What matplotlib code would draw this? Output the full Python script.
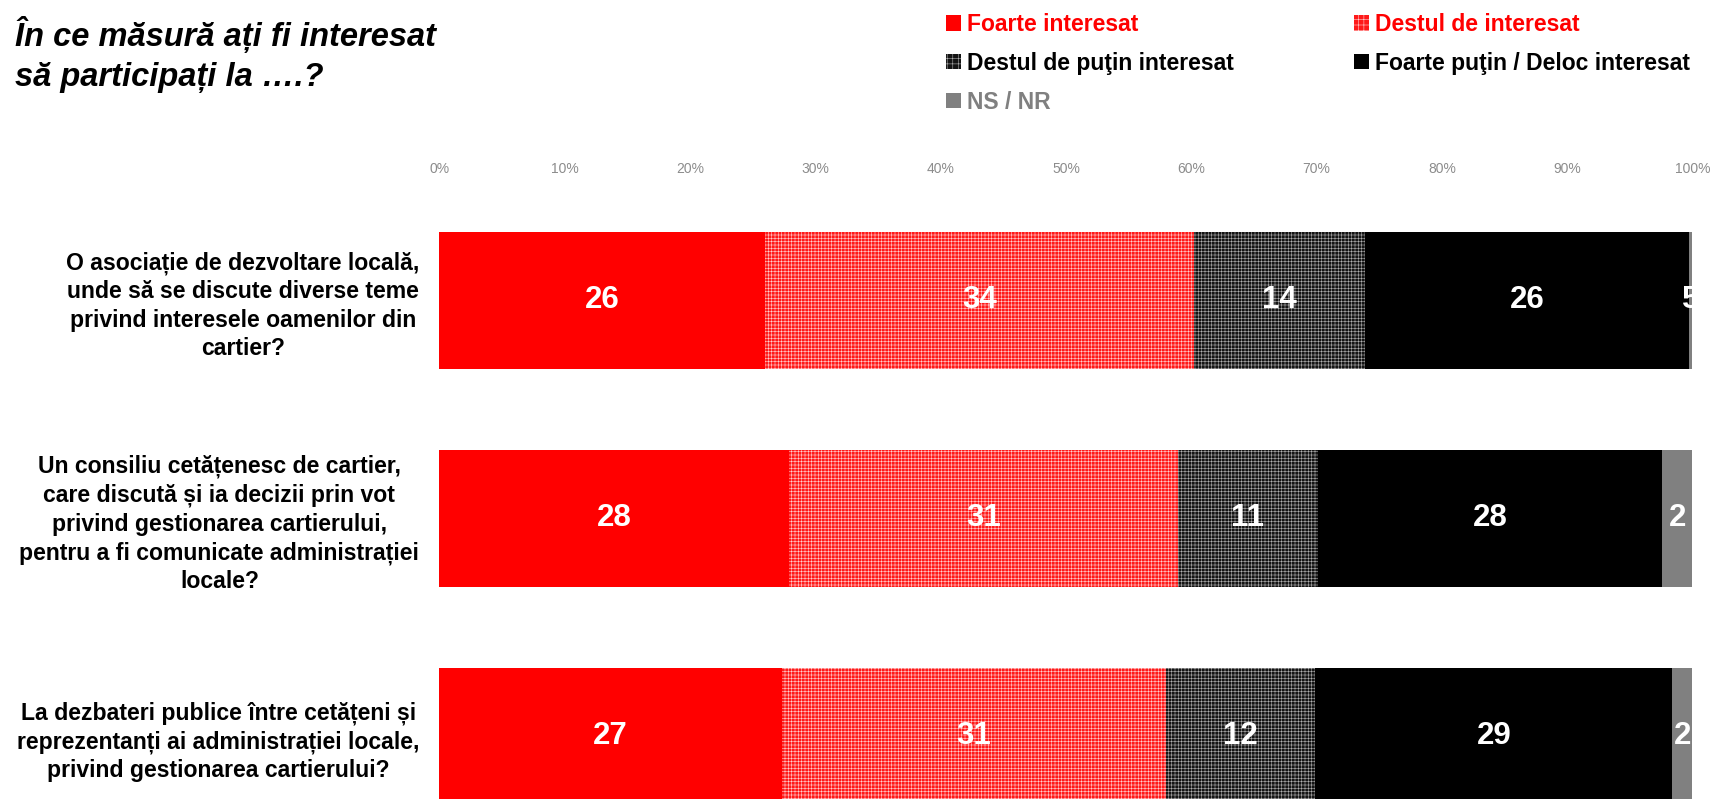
import matplotlib
matplotlib.use("Agg")
import matplotlib.pyplot as plt
from matplotlib.patches import Patch

plt.rcParams['font.family'] = ['Liberation Sans', 'DejaVu Sans']
plt.rcParams['hatch.linewidth'] = 0.4

# ---------------- data ----------------
title = "În ce măsură ați fi interesat\nsă participați la ….?"
categories = [
    "O asociație de dezvoltare locală,\nunde să se discute diverse teme\nprivind interesele oamenilor din\ncartier?",
    "Un consiliu cetățenesc de cartier,\ncare discută și ia decizii prin vot\nprivind gestionarea cartierului,\npentru a fi comunicate administrației\nlocale?",
    "La dezbateri publice între cetățeni și\nreprezentanți ai administrației locale,\nprivind gestionarea cartierului?",
]
series_names = ["Foarte interesat", "Destul de interesat", "Destul de puţin interesat",
                "Foarte puţin / Deloc interesat", "NS / NR"]
foarte_interesat = [26.0, 27.9, 27.3]
destul_interesat = [34.2, 31.0, 30.7]
destul_putin = [13.7, 11.2, 11.9]
foarte_putin = [25.8, 27.5, 28.5]
ns_nr = [0.3, 2.4, 1.6]
label_foarte_interesat = ["26", "28", "27"]
label_destul_interesat = ["34", "31", "31"]
label_destul_putin = ["14", "11", "12"]
label_foarte_putin = ["26", "28", "29"]
label_ns_nr = ["5", "2", "2"]
xticks = [0, 10, 20, 30, 40, 50, 60, 70, 80, 90, 100]
xtick_labels = ["0%", "10%", "20%", "30%", "40%", "50%", "60%", "70%", "80%", "90%", "100%"]

series = [foarte_interesat, destul_interesat, destul_putin, foarte_putin, ns_nr]
series_labels = [label_foarte_interesat, label_destul_interesat, label_destul_putin,
                 label_foarte_putin, label_ns_nr]

# ---------------- styles ----------------
HATCH = '+' * 5
styles = [
    dict(facecolor='#FF0000', edgecolor='#FF0000', hatch=None),
    dict(facecolor='#FF1A1A', edgecolor='#FFD0D0', hatch=HATCH),
    dict(facecolor='#141414', edgecolor='#B0B0B0', hatch=HATCH),
    dict(facecolor='#000000', edgecolor='#000000', hatch=None),
    dict(facecolor='#808080', edgecolor='#808080', hatch=None),
]
legend_text_colors = ['#FF0000', '#FF0000', '#000000', '#000000', '#808080']

W, H = 1715, 799
fig = plt.figure(figsize=(W / 100, H / 100), dpi=100)
fig.patch.set_facecolor('white')

ax_left, ax_right = 439.5, 1692.5
ax_top_px = 180
ax = fig.add_axes([ax_left / W, 0, (ax_right - ax_left) / W, (H - ax_top_px) / H])

ypos = list(range(len(categories)))
bar_h = 0.624
lefts = [0.0] * len(categories)
for vals, labs, st in zip(series, series_labels, styles):
    ax.barh(ypos, vals, left=lefts, height=bar_h, facecolor=st['facecolor'],
            edgecolor=st['edgecolor'], hatch=st['hatch'], linewidth=0)
    for i, (v, lab) in enumerate(zip(vals, labs)):
        ax.text(lefts[i] + v / 2, ypos[i], lab, ha='center', va='center',
                color='white', fontsize=22.5, fontweight='bold', clip_on=True)
    lefts = [l + v for l, v in zip(lefts, vals)]

ax.set_xlim(0, 100)
unit = 218.0
ax.set_ylim((H - 300.5) / unit, (ax_top_px - 300.5) / unit)
for s in ax.spines.values():
    s.set_visible(False)

ax.xaxis.tick_top()
ax.set_xticks(xticks)
ax.set_xticklabels(xtick_labels)
ax.tick_params(axis='x', length=0, pad=3, labelsize=10, labelcolor='#8C8C8C')

ax.set_yticks(ypos)
ax.set_yticklabels(categories, fontsize=16.6, fontweight='bold', color='black',
                   ha='right', multialignment='center', linespacing=1.31)
ax.tick_params(axis='y', length=0, pad=14.5)

# title
fig.text(15 / W, 1 - 16 / H, title, ha='left', va='top', fontsize=23.5,
         fontweight='bold', fontstyle='italic', linespacing=1.39)

# legend (row-major order in two columns)
handles = [Patch(facecolor=st['facecolor'], edgecolor=st['edgecolor'],
                 hatch=(('+' * 3) if st['hatch'] else None), linewidth=0) for st in styles]
order = [0, 2, 4, 1, 3]
leg = fig.legend([handles[i] for i in order], [series_names[i] for i in order],
                 ncol=2, loc='upper left', bbox_to_anchor=(946 / W, 1 - 13 / H),
                 frameon=False, prop={'weight': 'bold', 'size': 16.45},
                 handlelength=0.66, handleheight=0.66, handletextpad=0.26,
                 columnspacing=5.24, labelspacing=0.69, borderpad=0, borderaxespad=0)
for txt, i in zip(leg.get_texts(), order):
    txt.set_color(legend_text_colors[i])

fig.savefig('out.png', dpi=100, facecolor='white')
